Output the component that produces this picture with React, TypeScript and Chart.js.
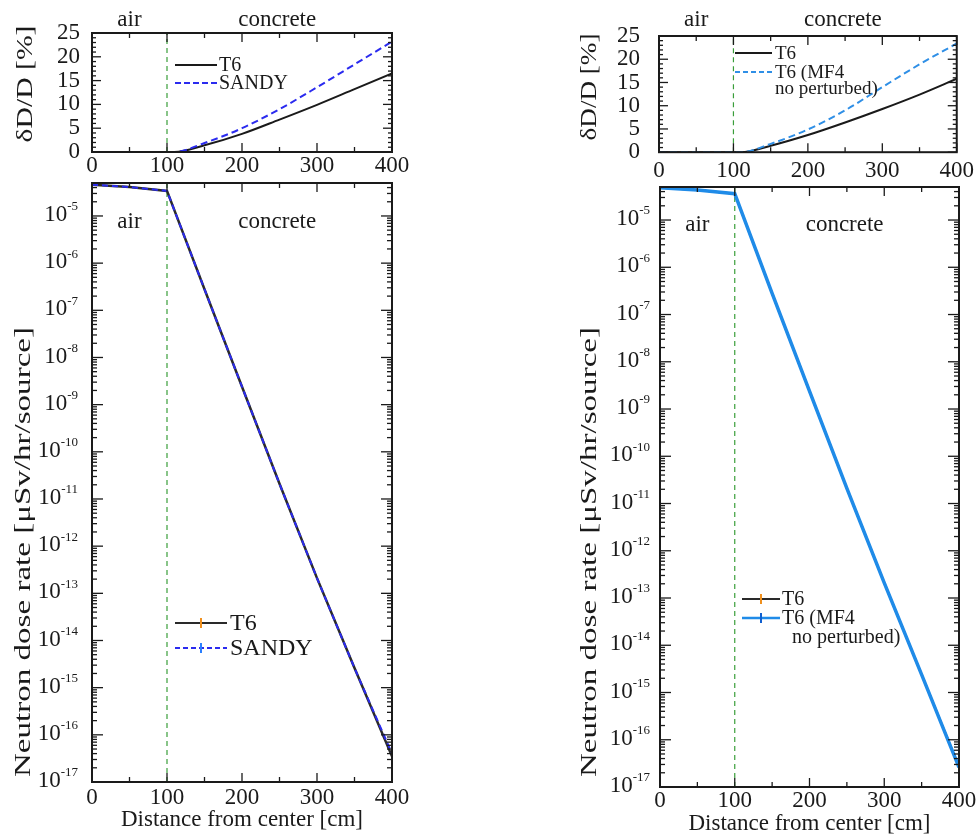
import React, { useEffect, useRef } from 'react';
import { Chart, registerables } from 'chart.js';
Chart.register(...registerables);

const FONT = '"Liberation Serif", "Times New Roman", serif';

// ---- data ----
const profileDistance = [0, 50, 100, 110, 150, 200, 250, 300, 350, 400];
const deviationT6Left = [0, 0, 0, 0, 1.4, 3.8, 6.8, 9.9, 13.2, 16.5];
const deviationSandy = [0, 0, 0, 0, 1.9, 5.0, 9.0, 13.6, 18.4, 23.2];
const deviationT6Right = [0, 0, 0, 0, 1.4, 3.7, 6.4, 9.3, 12.4, 15.8];
const deviationMF4 = [0, 0, 0, 0, 1.8, 4.9, 9.0, 14.0, 18.9, 23.4];

const doseDistance = [0, 50, 100, 150, 200, 250, 300, 350, 400];
const doseT6Left = [4.6e-5, 4.1e-5, 3.4e-5, 2.8e-7, 2.4e-9, 2.1e-11, 2.1e-13, 2.6e-15, 3.5e-17];
const doseSandy = [4.6e-5, 4.1e-5, 3.4e-5, 2.8e-7, 2.4e-9, 2.1e-11, 2.1e-13, 2.6e-15, 4.0e-17];
const doseT6Right = [4.8e-5, 4.3e-5, 3.6e-5, 2.8e-7, 2.4e-9, 2.1e-11, 2.1e-13, 2.4e-15, 2.7e-17];
const doseMF4 = [4.8e-5, 4.3e-5, 3.6e-5, 2.8e-7, 2.4e-9, 2.1e-11, 2.1e-13, 2.4e-15, 2.6e-17];

const boundaryDistance = 100;
const xTickValues = [0, 100, 200, 300, 400];
const xMinorValues = [50, 150, 250, 350];
const deviationTicks = [0, 5, 10, 15, 20, 25];
const doseExponents = [-17, -16, -15, -14, -13, -12, -11, -10, -9, -8, -7, -6, -5];
const regionLabels = [
  { text: 'air', x: 50 },
  { text: 'concrete', x: 247 },
];

const DEV_MAX = 25;
const DOSE_MIN = 1e-17;
const DOSE_MAX = 5e-5;

const BLACK = '#1a1a1a';
const SANDY_BLUE = '#2b2bef';
const MF4_BLUE = '#2f8fe6';
const MF4_BLUE_SOLID = '#1f8be8';
const ORANGE = '#f0901e';
const GREEN = '#3a9e3a';

type Sample = { color: string; dash: number[]; width: number; marker?: string };
type LegendRow = { y: number; text: string; textX?: number; sample?: Sample };
type PanelSpec = {
  key: string;
  left: number; top: number; width: number; height: number;
  area: { l: number; t: number; r: number; b: number };
  log: boolean;
  datasets: any[];
  yTickPad: number;
  xTickPad: number;
  xTitle: boolean;
  xTitlePad: number;
  yTitle: { text: string; cx: number; cy: number; len: number };
  regionY: number;
  logGap: number;
  legend: { x0: number; x1: number; textX: number; font: number; rows: LegendRow[] };
};

const pts = (xs: number[], ys: number[]) => xs.map((x, i) => ({ x, y: ys[i] }));

const lineDs = (label: string, data: any[], color: string, width: number, dash: number[], order: number, extra: any = {}) => ({
  label,
  data,
  borderColor: color,
  backgroundColor: color,
  borderWidth: width,
  borderDash: dash,
  pointRadius: 0,
  fill: false,
  order,
  ...extra,
});

const endMarker = (n: number, color: string) => ({
  pointRadius: Array.from({ length: n }, (_, i) => (i === n - 1 ? 6 : 0)),
  pointStyle: 'line',
  rotation: 90,
  pointBorderColor: color,
  pointBorderWidth: 2,
});

const boundaryDs = (lo: number, hi: number) =>
  lineDs('boundary', [{ x: boundaryDistance, y: lo }, { x: boundaryDistance, y: hi }], GREEN, 1.2, [5, 4], 9);

function decorPlugin(p: PanelSpec) {
  return {
    id: 'decor_' + p.key,
    afterDatasetsDraw(chart: any) {
      const { ctx, chartArea: a, scales } = chart;
      const xs = scales.x;
      const ys = scales.y;
      const ox = p.left;
      const oy = p.top;
      ctx.save();
      ctx.strokeStyle = BLACK;
      ctx.fillStyle = BLACK;
      const seg = (x1: number, y1: number, x2: number, y2: number) => {
        ctx.beginPath();
        ctx.moveTo(x1, y1);
        ctx.lineTo(x2, y2);
        ctx.stroke();
      };
      // inward ticks
      ctx.lineWidth = 1.3;
      for (const v of xTickValues) {
        const px = xs.getPixelForValue(v);
        seg(px, a.bottom, px, a.bottom - 9);
        seg(px, a.top, px, a.top + 9);
      }
      for (const v of xMinorValues) {
        const px = xs.getPixelForValue(v);
        seg(px, a.bottom, px, a.bottom - 5);
        seg(px, a.top, px, a.top + 5);
      }
      if (!p.log) {
        for (let v = 0; v <= DEV_MAX; v++) {
          const py = ys.getPixelForValue(v);
          const len = v % 5 === 0 ? 9 : 4;
          seg(a.left, py, a.left + len, py);
          seg(a.right, py, a.right - len, py);
        }
      } else {
        for (const e of doseExponents) {
          const base = Math.pow(10, e);
          const py = ys.getPixelForValue(base);
          seg(a.left, py, a.left + 11, py);
          seg(a.right, py, a.right - 11, py);
          for (let k = 2; k <= 9; k++) {
            const v = k * base;
            if (v > DOSE_MAX) break;
            const pm = ys.getPixelForValue(v);
            seg(a.left, pm, a.left + 5, pm);
            seg(a.right, pm, a.right - 5, pm);
          }
        }
        // log labels with superscripts
        ctx.textBaseline = 'middle';
        for (const e of doseExponents) {
          const py = ys.getPixelForValue(Math.pow(10, e));
          const exp = String(e);
          ctx.font = `13px ${FONT}`;
          const we = ctx.measureText(exp).width;
          const xr = a.left - p.logGap;
          ctx.textAlign = 'left';
          ctx.fillText(exp, xr - we, py - 9);
          ctx.font = `23px ${FONT}`;
          ctx.textAlign = 'right';
          ctx.fillText('10', xr - we, py - 1);
        }
      }
      // frame
      ctx.lineWidth = 2;
      ctx.strokeRect(a.left, a.top, a.right - a.left, a.bottom - a.top);

      // y title (stretched along its length)
      ctx.save();
      ctx.translate(p.yTitle.cx - ox, p.yTitle.cy - oy);
      ctx.rotate(-Math.PI / 2);
      ctx.font = `24px ${FONT}`;
      const tw = ctx.measureText(p.yTitle.text).width;
      ctx.scale(p.yTitle.len / tw, 1);
      ctx.textAlign = 'center';
      ctx.textBaseline = 'middle';
      ctx.fillText(p.yTitle.text, 0, 0);
      ctx.restore();

      // region labels
      ctx.font = `23px ${FONT}`;
      ctx.textAlign = 'center';
      ctx.textBaseline = 'middle';
      for (const r of regionLabels) {
        ctx.fillText(r.text, xs.getPixelForValue(r.x), p.regionY - oy);
      }

      // legend
      const L = p.legend;
      ctx.font = `${L.font}px ${FONT}`;
      ctx.textAlign = 'left';
      for (const row of L.rows) {
        const y = row.y - oy;
        if (row.sample) {
          const s = row.sample;
          ctx.save();
          ctx.strokeStyle = s.color;
          ctx.lineWidth = s.width;
          ctx.setLineDash(s.dash);
          seg(L.x0 - ox, y, L.x1 - ox, y);
          ctx.restore();
          if (s.marker) {
            ctx.save();
            ctx.strokeStyle = s.marker;
            ctx.lineWidth = 2;
            const mx = (L.x0 + L.x1) / 2 - ox;
            seg(mx, y - 5, mx, y + 5);
            ctx.restore();
          }
        }
        ctx.fillStyle = BLACK;
        ctx.fillText(row.text, (row.textX ?? L.textX) - ox, y + 1);
      }
      ctx.restore();
    },
  };
}

function makeConfig(p: PanelSpec): any {
  const yAxisW = p.area.l - p.left;
  const padRight = p.left + p.width - p.area.r;
  const padTop = p.area.t - p.top;
  const xAxisH = p.top + p.height - p.area.b;
  const tickFont = { family: FONT, size: 23 };
  const yScale: any = p.log
    ? {
        type: 'logarithmic',
        min: DOSE_MIN,
        max: DOSE_MAX,
        grid: { display: false, drawTicks: false },
        border: { display: false },
        ticks: { display: false },
        afterFit: (s: any) => { s.width = yAxisW; },
      }
    : {
        type: 'linear',
        min: 0,
        max: DEV_MAX,
        grid: { display: false, drawTicks: false },
        border: { display: false },
        afterBuildTicks: (s: any) => { s.ticks = deviationTicks.map((v) => ({ value: v })); },
        ticks: { font: tickFont, color: BLACK, padding: p.yTickPad, autoSkip: false },
        afterFit: (s: any) => { s.width = yAxisW; },
      };
  return {
    type: 'line',
    data: { datasets: p.datasets },
    options: {
      animation: false,
      responsive: false,
      maintainAspectRatio: false,
      layout: { padding: { left: 0, right: padRight, top: padTop, bottom: 0 } },
      plugins: { legend: { display: false }, tooltip: { enabled: false }, title: { display: false } },
      scales: {
        x: {
          type: 'linear',
          min: 0,
          max: 400,
          grid: { display: false, drawTicks: false },
          border: { display: false },
          afterBuildTicks: (s: any) => { s.ticks = xTickValues.map((v) => ({ value: v })); },
          ticks: { font: tickFont, color: BLACK, padding: p.xTickPad, maxRotation: 0, autoSkip: false },
          title: {
            display: p.xTitle,
            text: 'Distance from center [cm]',
            font: { family: FONT, size: 23 },
            color: BLACK,
            padding: { top: 0, bottom: p.xTitlePad },
          },
          afterFit: (s: any) => { s.height = xAxisH; },
        },
        y: yScale,
      },
    },
    plugins: [decorPlugin(p)],
  };
}

const panels: PanelSpec[] = [
  {
    key: 'tl', left: 0, top: 0, width: 420, height: 185,
    area: { l: 92, t: 33, r: 392, b: 152 },
    log: false,
    datasets: [
      lineDs('SANDY', pts(profileDistance, deviationSandy), SANDY_BLUE, 2, [7, 4], 0, { cubicInterpolationMode: 'monotone' }),
      lineDs('T6', pts(profileDistance, deviationT6Left), BLACK, 2, [], 1, { cubicInterpolationMode: 'monotone' }),
      boundaryDs(0, DEV_MAX),
    ],
    yTickPad: 12, xTickPad: 0, xTitle: false, xTitlePad: 0,
    yTitle: { text: 'δD/D [%]', cx: 26, cy: 84, len: 117 },
    regionY: 20, logGap: 0,
    legend: {
      x0: 175, x1: 217, textX: 219, font: 20,
      rows: [
        { y: 65, text: 'T6', sample: { color: BLACK, dash: [], width: 2 } },
        { y: 83, text: 'SANDY', sample: { color: SANDY_BLUE, dash: [6, 3], width: 2 } },
      ],
    },
  },
  {
    key: 'tr', left: 560, top: 0, width: 419, height: 185,
    area: { l: 659, t: 36, r: 959, b: 155 },
    log: false,
    datasets: [
      lineDs('T6 (MF4 no perturbed)', pts(profileDistance, deviationMF4), MF4_BLUE, 2, [7, 4], 0, { cubicInterpolationMode: 'monotone' }),
      lineDs('T6', pts(profileDistance, deviationT6Right), BLACK, 2, [], 1, { cubicInterpolationMode: 'monotone' }),
      boundaryDs(0, DEV_MAX),
    ],
    yTickPad: 19, xTickPad: 5, xTitle: false, xTitlePad: 0,
    yTitle: { text: 'δD/D [%]', cx: 590, cy: 87, len: 107 },
    regionY: 20, logGap: 0,
    legend: {
      x0: 735, x1: 772, textX: 775, font: 19,
      rows: [
        { y: 53, text: 'T6', sample: { color: BLACK, dash: [], width: 2 } },
        { y: 72, text: 'T6 (MF4', sample: { color: MF4_BLUE, dash: [5, 3], width: 2 } },
        { y: 88, text: 'no perturbed)' },
      ],
    },
  },
  {
    key: 'bl', left: 0, top: 175, width: 420, height: 663,
    area: { l: 92, t: 183, r: 392, b: 782 },
    log: true,
    datasets: [
      lineDs('SANDY', pts(doseDistance, doseSandy), SANDY_BLUE, 2, [6, 4], 0, endMarker(doseDistance.length, '#2a7fff')),
      lineDs('T6', pts(doseDistance, doseT6Left), '#2a2a2a', 2.5, [], 1, endMarker(doseDistance.length, ORANGE)),
      boundaryDs(DOSE_MIN, DOSE_MAX),
    ],
    yTickPad: 0, xTickPad: 2, xTitle: true, xTitlePad: 4,
    yTitle: { text: 'Neutron dose rate [μSv/hr/source]', cx: 24, cy: 552, len: 450 },
    regionY: 222, logGap: 14,
    legend: {
      x0: 175, x1: 227, textX: 230, font: 24,
      rows: [
        { y: 623, text: 'T6', sample: { color: '#2a2a2a', dash: [], width: 2, marker: ORANGE } },
        { y: 648, text: 'SANDY', sample: { color: SANDY_BLUE, dash: [5, 3], width: 2, marker: '#2a7fff' } },
      ],
    },
  },
  {
    key: 'br', left: 560, top: 175, width: 419, height: 663,
    area: { l: 660, t: 187, r: 959, b: 787 },
    log: true,
    datasets: [
      lineDs('T6 (MF4 no perturbed)', pts(doseDistance, doseMF4), MF4_BLUE_SOLID, 3.5, [], 0, endMarker(doseDistance.length, '#2a7fff')),
      lineDs('T6', pts(doseDistance, doseT6Right), '#2a2a2a', 2, [], 1, endMarker(doseDistance.length, ORANGE)),
      boundaryDs(DOSE_MIN, DOSE_MAX),
    ],
    yTickPad: 0, xTickPad: 0, xTitle: true, xTitlePad: 0,
    yTitle: { text: 'Neutron dose rate [μSv/hr/source]', cx: 590, cy: 552, len: 450 },
    regionY: 225, logGap: 10,
    legend: {
      x0: 742, x1: 780, textX: 782, font: 20,
      rows: [
        { y: 599, text: 'T6', sample: { color: '#2a2a2a', dash: [], width: 2, marker: ORANGE } },
        { y: 618, text: 'T6 (MF4', sample: { color: MF4_BLUE_SOLID, dash: [], width: 2.5, marker: '#1060d0' } },
        { y: 637, text: 'no perturbed)', textX: 792 },
      ],
    },
  },
];

function Panel({ spec }: { spec: PanelSpec }) {
  const ref = useRef<HTMLCanvasElement | null>(null);
  useEffect(() => {
    if (!ref.current) return;
    const chart = new Chart(ref.current, makeConfig(spec));
    return () => chart.destroy();
  }, [spec]);
  return (
    <canvas
      ref={ref}
      width={spec.width}
      height={spec.height}
      style={{ position: 'absolute', left: spec.left, top: spec.top, width: spec.width, height: spec.height }}
    />
  );
}

export default function App() {
  return (
    <div style={{ position: 'absolute', left: 0, top: 0, width: 979, height: 838, background: '#fff' }}>
      {panels.map((p) => (
        <Panel key={p.key} spec={p} />
      ))}
    </div>
  );
}
